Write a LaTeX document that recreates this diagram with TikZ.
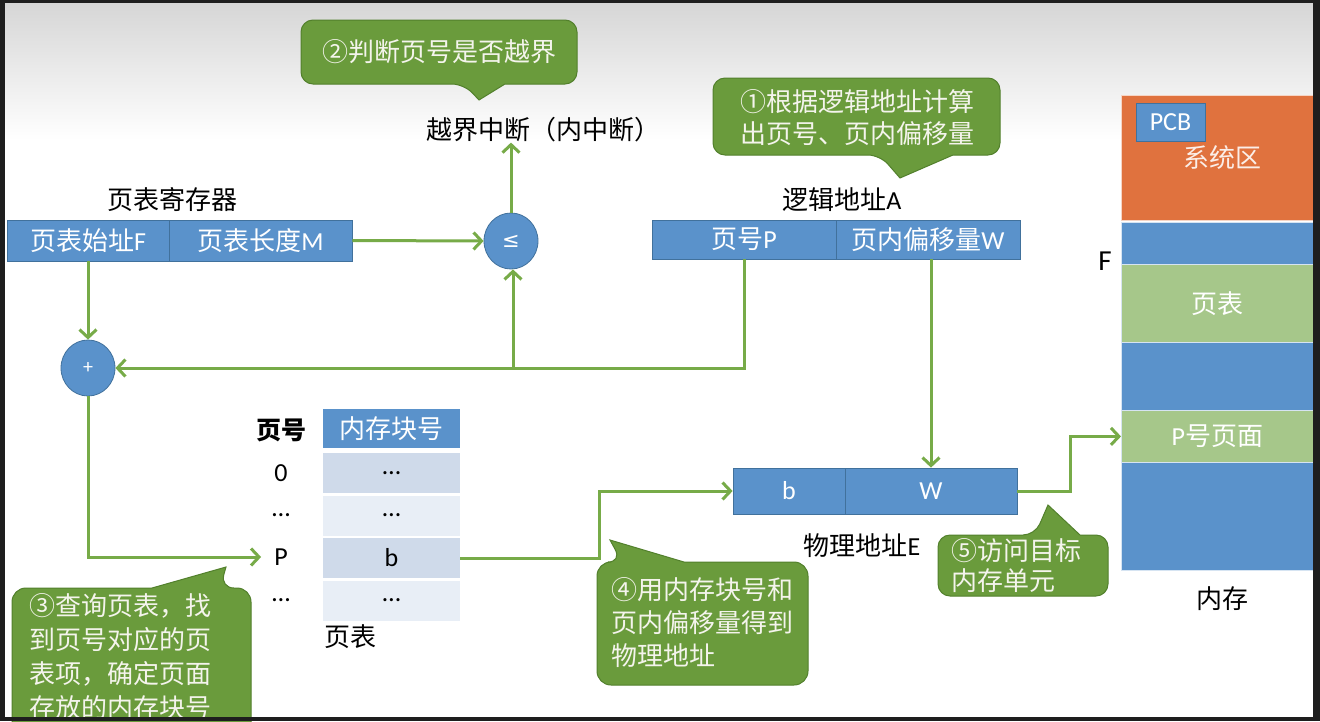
\documentclass[tikz,border=0pt]{standalone}
\usepackage{fontspec}
\setmainfont{Noto Sans CJK SC}
\newfontfamily\lat{Carlito}
\newfontfamily\djv{DejaVu Sans}
\usetikzlibrary{arrows.meta,shapes.geometric}
\definecolor{bgdark}{HTML}{1E1E1E}
\definecolor{boxblue}{HTML}{5A92CB}
\definecolor{boxedge}{HTML}{41719C}
\definecolor{cgreen}{HTML}{6A9B3C}
\definecolor{cedge}{HTML}{52802C}
\definecolor{agreen}{HTML}{77AB48}
\definecolor{orng}{HTML}{E0723E}
\definecolor{lgreen}{HTML}{A6C78A}
\definecolor{rowdark}{HTML}{CFDAEA}
\definecolor{rowlight}{HTML}{E8EEF6}
\definecolor{ctext}{HTML}{F4F4EC}
\begin{document}
\begin{tikzpicture}[x=1pt,y=-1pt,
  every node/.style={font=\fontsize{26}{33}\selectfont, inner sep=0pt},
  bluebox/.style={draw=boxedge, fill=boxblue, line width=0.8pt, text=white},
  circ/.style={ellipse, draw=boxedge, fill=boxblue, line width=0.8pt, text=white, minimum width=54pt, minimum height=56pt, font=\fontsize{20}{22}\selectfont\lat},
  rowd/.style={fill=rowdark, minimum width=137pt, minimum height=40pt},
  rowl/.style={fill=rowlight, minimum width=137pt, minimum height=40pt},
  mem/.style={draw=white!75!boxblue, line width=0.8pt, minimum width=192pt, anchor=north west, text=white},
  callout/.style={fill=cgreen, draw=cedge, line width=1pt},
  ctxt/.style={text=ctext, align=left},
  flow/.style={draw=agreen, line width=3pt, -{Straight Barb[length=8pt,width=17pt]}},
]
\useasboundingbox (0,0) rectangle (1320,721);
% background
\fill[bgdark] (0,0) rectangle (1320,721);
\shade[top color=black!16, bottom color=white] (5,3) rectangle (1313,140);
\fill[white] (5,140) rectangle (1313,717);

% page table register
\node (reglabel) at (172,200) {页表寄存器};
\node[bluebox, minimum width=162pt, minimum height=41pt] (reg1) at (88,240.5) {页表始址{\lat F}};
\node[bluebox, minimum width=183pt, minimum height=41pt] (reg2) at (260.5,240.5) {页表长度{\lat M}};

% comparator and adder
\node[circ, font=\fontsize{21}{22}\selectfont\djv] (le) at (511,241) {≤};
\node[circ] (plus) at (88,368) {+};
\node (intr) at (543,130) {越界中断（内中断）};

% logical address
\node (lalabel) at (842,200) {逻辑地址{\lat A}};
\node[bluebox, minimum width=184pt, minimum height=39pt] (la1) at (744,239.5) {页号{\lat P}};
\node[bluebox, minimum width=184pt, minimum height=39pt] (la2) at (928,239.5) {页内偏移量{\lat W}};

% physical address
\node[bluebox, minimum width=112pt, minimum height=46pt] (pa1) at (789,491) {\lat b};
\node[bluebox, minimum width=172pt, minimum height=46pt] (pa2) at (931,491) {\lat W};
\node (palabel) at (862,546) {物理地址{\lat E}};

% page table
\node[fill=boxblue, text=white, minimum width=137pt, minimum height=39pt] (hdr) at (391.5,428.5) {内存块号};
\node[rowd] (r0) at (391.5,473) {\lat …};
\node[rowl] (r1) at (391.5,515.5) {\lat …};
\node[rowd] (r2) at (391.5,558) {\lat b};
\node[rowl] (r3) at (391.5,600.5) {\lat …};
\node[font=\fontsize{25}{30}\selectfont\bfseries] (pnh) at (281,430) {页号};
\node (p0) at (281,473) {\lat 0};
\node (p1) at (281,515) {\lat …};
\node (pP) at (281,557) {\lat P};
\node (p3) at (281,600) {\lat …};
\node (ptlabel) at (350,637) {页表};

% memory
\node[mem, fill=orng, draw=white!70!orng, minimum height=125pt] (sys) at (1121,95) {};
\node[text=white!88!orng] (syslabel) at (1222,158) {系统区};
\node[bluebox, minimum width=69pt, minimum height=38pt, font=\fontsize{26}{30}\selectfont\lat] (pcb) at (1170.5,122) {PCB};
\node[mem, fill=boxblue, minimum height=42pt] (m1) at (1121,222) {};
\node[mem, fill=lgreen, minimum height=78pt] (m2) at (1121,264) {页表};
\node[mem, fill=boxblue, minimum height=68pt] (m3) at (1121,342) {};
\node[mem, fill=lgreen, minimum height=52pt] (m4) at (1121,410) {{\lat P}号页面};
\node[mem, fill=boxblue, minimum height=108pt] (m5) at (1121,462) {};
\node[font=\fontsize{29}{32}\selectfont\lat] (flabel) at (1105,261) {F};
\node (memlabel) at (1222,599) {内存};

% connectors
\draw[flow] (reg2.east) -- (le.west);
\draw[flow] (le.north) -- (le.north |- intr.south);
\draw[flow] (la1.south) |- (plus.east);
\coordinate (j1) at ([xshift=2pt]le.south |- plus.east);
\draw[flow] (j1) -- ([xshift=2pt]le.south);
\draw[flow] (reg1.south) -- (plus.north);
\draw[flow, shorten >=13pt] (plus.south) |- (pP.west);
\draw[flow] (r2.east) -- ++(139,0) |- (pa1.west);
\draw[flow] (pa2.north |- la2.south) -- (pa2.north);
\draw[flow] (pa2.east) -- ++(53,0) |- (m4.west);

% callouts
\filldraw[callout] (505,84) [rounded corners=12pt] -- (577,84) -- (577,20) -- (301,20) -- (301,84) -- (464,84) [sharp corners] -- (479,100) -- cycle;
\node[ctxt] (c2) at (439,52) {②判断页号是否越界};

\filldraw[callout] (953,155) [rounded corners=12pt] -- (1000,155) -- (1000,78) -- (713,78) -- (713,155) -- (880,155) [sharp corners] -- (900,178) -- cycle;
\node[ctxt, font=\fontsize{26}{32}\selectfont] (c1) at (857,118) {①根据逻辑地址计算\\出页号、页内偏移量};

\filldraw[callout] (152,588) [rounded corners=14pt] -- (12,588) -- (12,740) -- (251,740) -- (251,588) -- (220,588) [sharp corners] -- (226,567) -- cycle;
\node[ctxt, anchor=north west, font=\fontsize{26}{34}\selectfont] (c3) at (29,593) {③查询页表，找\\到页号对应的页\\表项，确定页面\\存放的内存块号};

\filldraw[callout] (684,562) [rounded corners=14pt] -- (808,562) -- (808,685) -- (597,685) -- (597,562) -- (622,562) [sharp corners] -- (610,540) -- cycle;
\node[ctxt, anchor=north west, font=\fontsize{26}{33}\selectfont] (c4) at (611,577) {④用内存块号和\\页内偏移量得到\\物理地址};

\filldraw[callout] (1080,535) [rounded corners=12pt] -- (1108,535) -- (1108,596) -- (938,596) -- (938,535) -- (1035,535) [sharp corners] -- (1048,505) -- cycle;
\node[ctxt, anchor=north west, font=\fontsize{26}{30}\selectfont] (c5) at (951,538) {⑤访问目标\\内存单元};

% screen frame on top
\fill[bgdark] (1313,0) rectangle (1320,721);
\fill[bgdark] (0,717) rectangle (1320,721);
\fill[bgdark] (0,0) rectangle (1320,3);
\fill[bgdark] (0,0) rectangle (5,721);
\end{tikzpicture}
\end{document}
